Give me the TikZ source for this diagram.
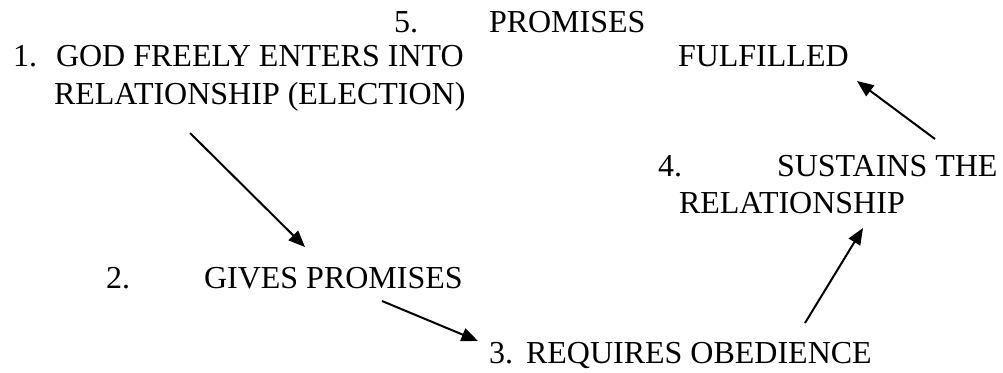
\documentclass[tikz,border=0pt]{standalone}
\usepackage{fontspec}
\setmainfont{Liberation Serif}
\usetikzlibrary{arrows.meta}
\begin{document}
\begin{tikzpicture}[x=.375pt,y=-.375pt,>={Triangle[length=6.2pt,width=5pt]},line width=.75pt,
  font=\fontsize{12}{13.8}\selectfont,
  txt/.style={anchor=base west,inner sep=0pt}]
  \useasboundingbox (0,0) rectangle (1003,372);
  % item 5
  \node[txt] (n5) at (393,32) {5.};
  \node[txt] (t5a) at (488,32) {PROMISES};
  \node[txt] (t5b) at (677,66) {FULFILLED};
  % item 1
  \node[txt] (n1) at (12,66) {1.};
  \node[txt] (t1a) at (55,66) {GOD FREELY ENTERS INTO};
  \node[txt] (t1b) at (53,104) {RELATIONSHIP (ELECTION)};
  % item 4
  \node[txt] (n4) at (657,176) {4.};
  \node[txt] (t4a) at (776,176) {SUSTAINS THE};
  \node[txt] (t4b) at (678,213) {RELATIONSHIP};
  % item 2
  \node[txt] (n2) at (105,288) {2.};
  \node[txt] (t2) at (203,288) {GIVES PROMISES};
  % item 3
  \node[txt] (n3) at (488,363) {3.};
  \node[txt] (t3) at (525,363) {REQUIRES OBEDIENCE};
  \coordinate (a1s) at (190,133);
  \coordinate (a1e) at (305,247);
  \coordinate (a2s) at (382,301);
  \coordinate (a2e) at (478,341);
  \coordinate (a3s) at (805,323);
  \coordinate (a3e) at (863,228);
  \coordinate (a4s) at (935,139);
  \coordinate (a4e) at (857,81);
  \draw[->] (a1s)--(a1e);
  \draw[->] (a2s)--(a2e);
  \draw[->] (a3s)--(a3e);
  \draw[->] (a4s)--(a4e);
\end{tikzpicture}
\end{document}
